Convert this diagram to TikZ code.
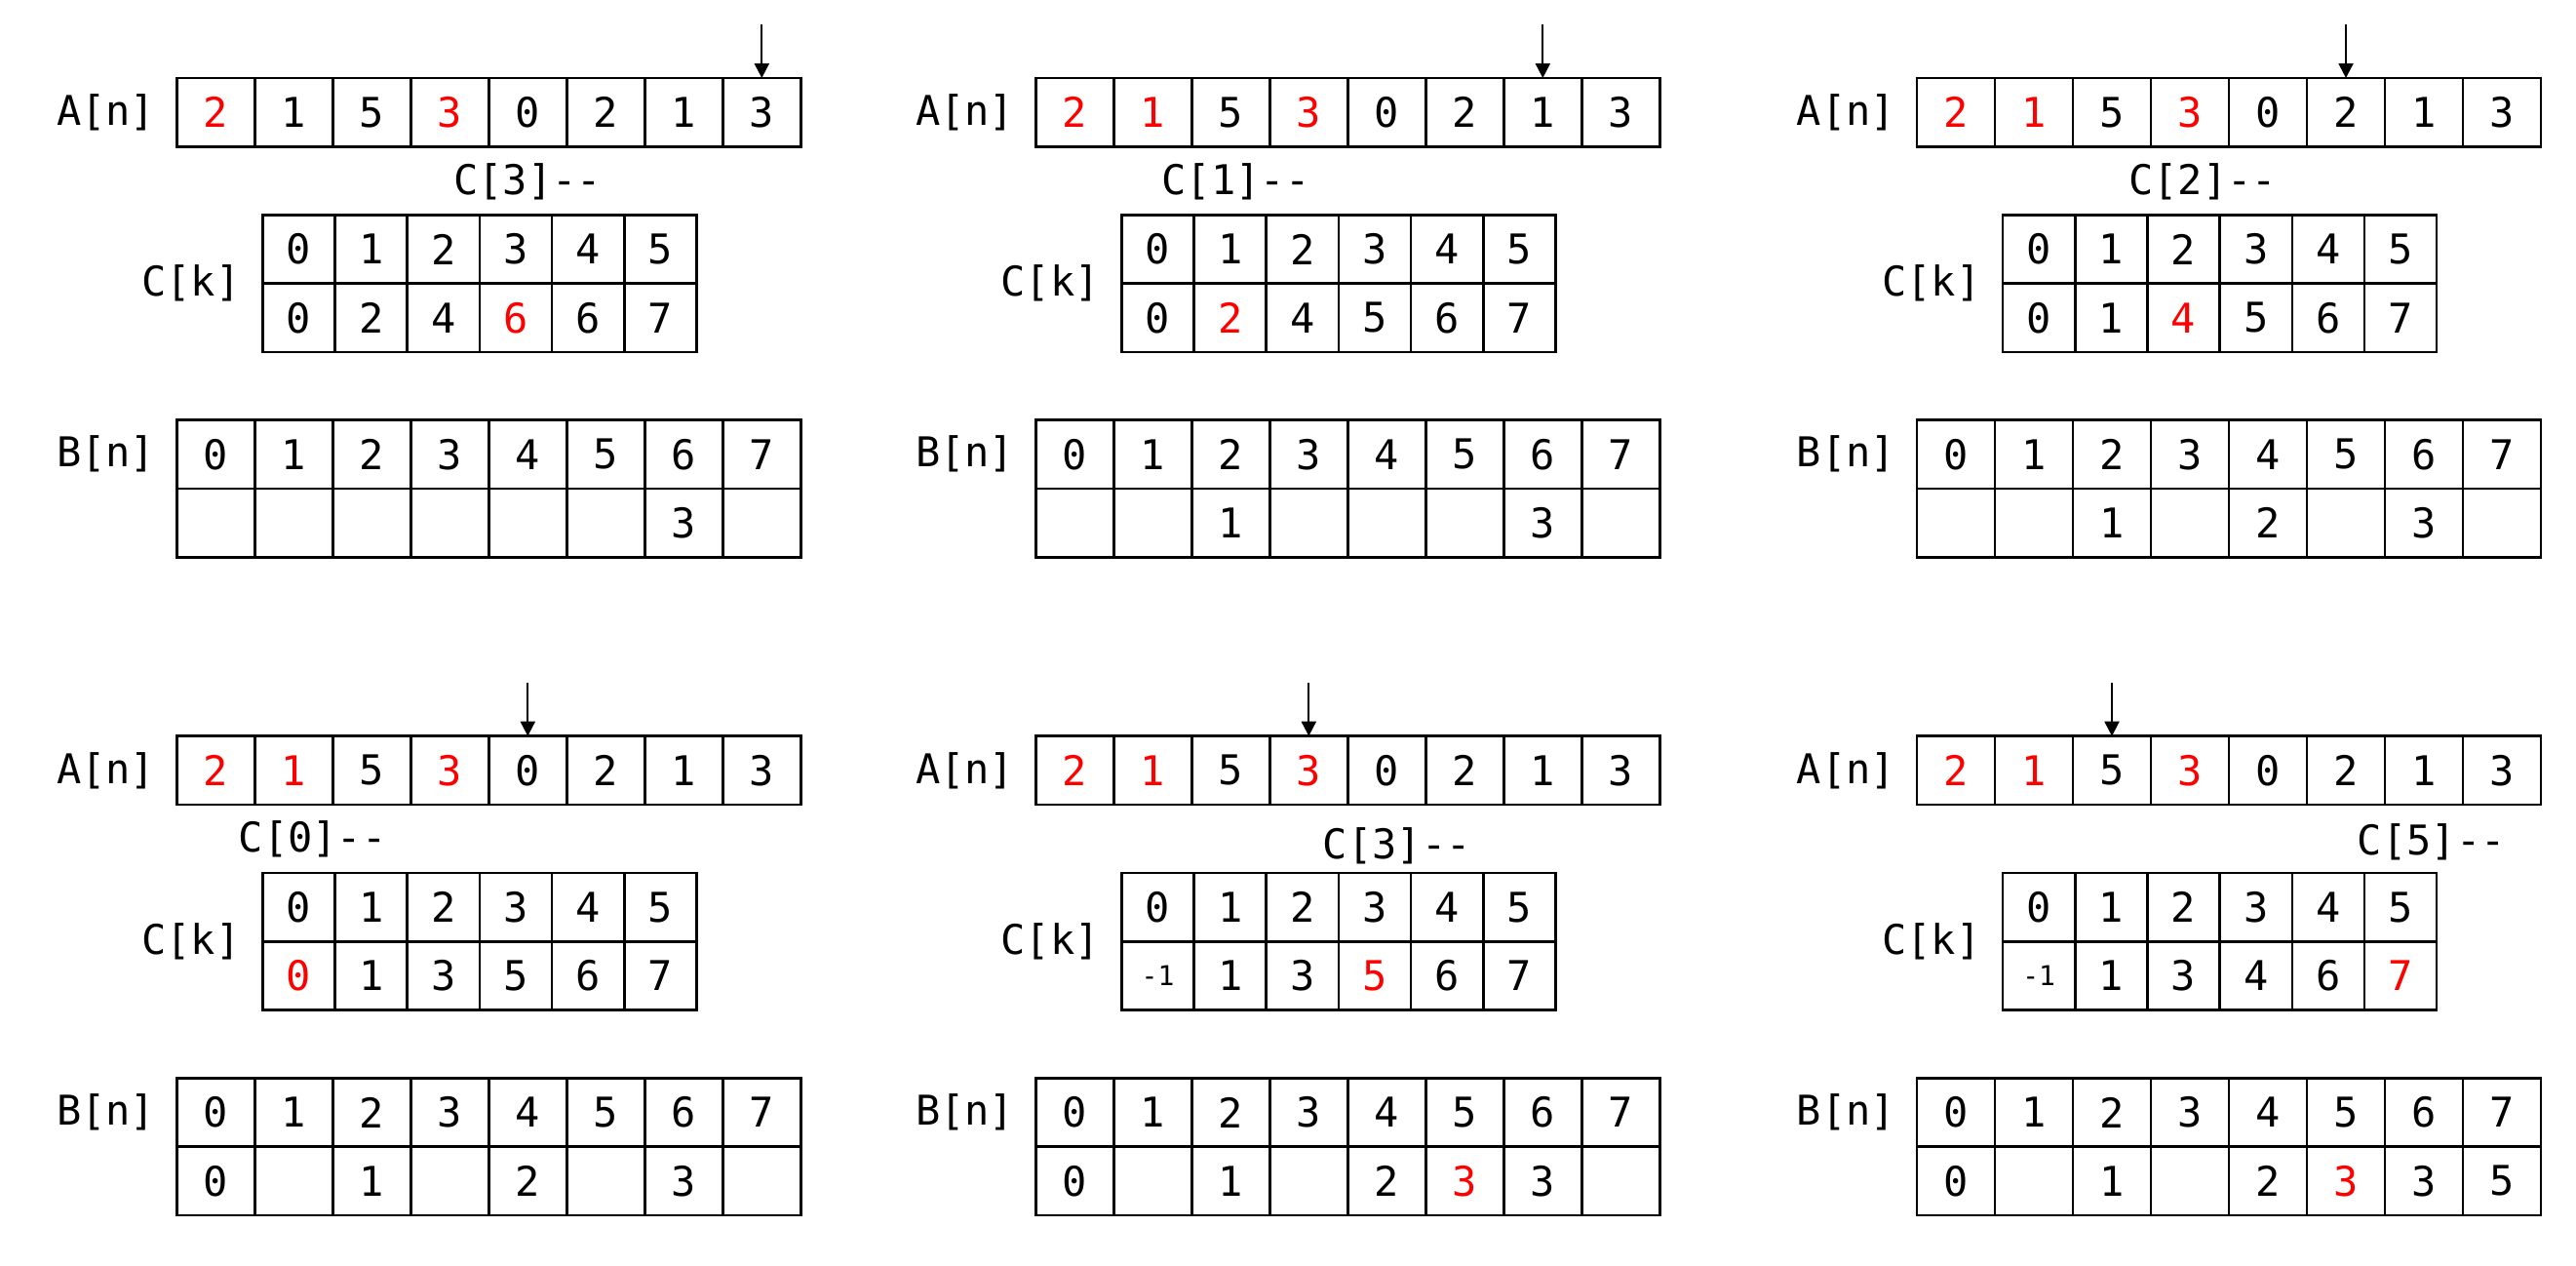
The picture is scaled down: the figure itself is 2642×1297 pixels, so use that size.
\documentclass[tikz,border=0pt]{standalone}
\usepackage{fontspec}
\newfontfamily\monofont{DejaVu Sans Mono}[RawFeature=+zero]
\usetikzlibrary{arrows.meta}
\newcommand{\smallnum}{\fontsize{14}{16}\selectfont}
\newcommand{\dd}{-\kern0pt-}
\tikzset{
  cellbase/.style={draw, line width=1.3pt, inner sep=0pt, outer sep=0pt, font=\monofont\fontsize{21}{25}\selectfont},
  acell/.style={cellbase, minimum width=40pt, minimum height=35.2pt},
  ccell/.style={cellbase, minimum width=37.08pt, minimum height=35.2pt},
  bcell/.style={cellbase, minimum width=40pt, minimum height=35.2pt},
  lbl/.style={inner sep=0pt, font=\monofont\fontsize{21}{25}\selectfont},
  ptr/.style={line width=1pt, -{Triangle[length=7.5pt,width=7.5pt]}},
}
% #1 prefix, #2 shift, #3 arrow cell, #4 A list, #5 label text, #6 label pos, #7 C list, #8 B list
\newcommand{\panel}[8]{%
\begin{scope}[shift={#2}]
  \node[lbl] (#1An) at (108.6,115.2) {A[n]};
  \node[lbl] (#1Ck) at (196,290.6) {C[k]};
  \node[lbl] (#1Bn) at (108.6,465.7) {B[n]};
  \foreach \v/\c [count=\i from 0] in {#4}{\node[acell,text=\c] (#1a\i) at ({221.3+80*\i},115.2) {\v};}
  \node[lbl] (#1lab) at #6 {#5};
  \foreach \v [count=\i from 0] in {0,1,2,3,4,5}{\node[ccell] (#1ci\i) at ({306.5+74.17*\i},255.5) {\v};}
  \foreach \v/\c [count=\i from 0] in {#7}{\node[ccell,text=\c] (#1cv\i) at ({306.5+74.17*\i},325.8) {\v};}
  \foreach \v [count=\i from 0] in {0,1,2,3,4,5,6,7}{\node[bcell] (#1bi\i) at ({221.3+80*\i},465.7) {\v};}
  \foreach \v/\c [count=\i from 0] in {#8}{\node[bcell,text=\c] (#1bv\i) at ({221.3+80*\i},536.2) {\v};}
  \coordinate (#1top) at ({221.3+80*#3},25.3);
  \draw[ptr] (#1top) -- (#1a#3.north);
\end{scope}}
\begin{document}
\begin{tikzpicture}[x=0.5pt,y=-0.5pt]
\fill[white] (0,0) rectangle (2642,1297);
\useasboundingbox (0,0) rectangle (2642,1297);
\panel{p1}{(0,0)}{7}{2/red,1/black,5/black,3/red,0/black,2/black,1/black,3/black}{C[3]\dd}{(541,186.6)}{0/black,2/black,4/black,6/red,6/black,7/black}{{}/black,{}/black,{}/black,{}/black,{}/black,{}/black,3/black,{}/black}
\panel{p2}{(881,0)}{6}{2/red,1/red,5/black,3/red,0/black,2/black,1/black,3/black}{C[1]\dd}{(386.5,186.6)}{0/black,2/red,4/black,5/black,6/black,7/black}{{}/black,{}/black,1/black,{}/black,{}/black,{}/black,3/black,{}/black}
\panel{p3}{(1784.7,0)}{5}{2/red,1/red,5/black,3/red,0/black,2/black,1/black,3/black}{C[2]\dd}{(474.5,186.6)}{0/black,1/black,4/red,5/black,6/black,7/black}{{}/black,{}/black,1/black,{}/black,2/black,{}/black,3/black,{}/black}
\panel{p4}{(0,674.7)}{4}{2/red,1/red,5/black,3/red,0/black,2/black,1/black,3/black}{C[0]\dd}{(320.7,185.3)}{0/red,1/black,3/black,5/black,6/black,7/black}{0/black,{}/black,1/black,{}/black,2/black,{}/black,3/black,{}/black}
\panel{p5}{(881,674.7)}{3}{2/red,1/red,5/black,3/red,0/black,2/black,1/black,3/black}{C[3]\dd}{(551.8,193)}{{\smallnum -1}/black,1/black,3/black,5/red,6/black,7/black}{0/black,{}/black,1/black,{}/black,2/black,3/red,3/black,{}/black}
\panel{p6}{(1784.7,674.7)}{2}{2/red,1/red,5/black,3/red,0/black,2/black,1/black,3/black}{C[5]\dd}{(709.1,188.8)}{{\smallnum -1}/black,1/black,3/black,4/black,6/black,7/red}{0/black,{}/black,1/black,{}/black,2/black,3/red,3/black,5/black}
\end{tikzpicture}
\end{document}
